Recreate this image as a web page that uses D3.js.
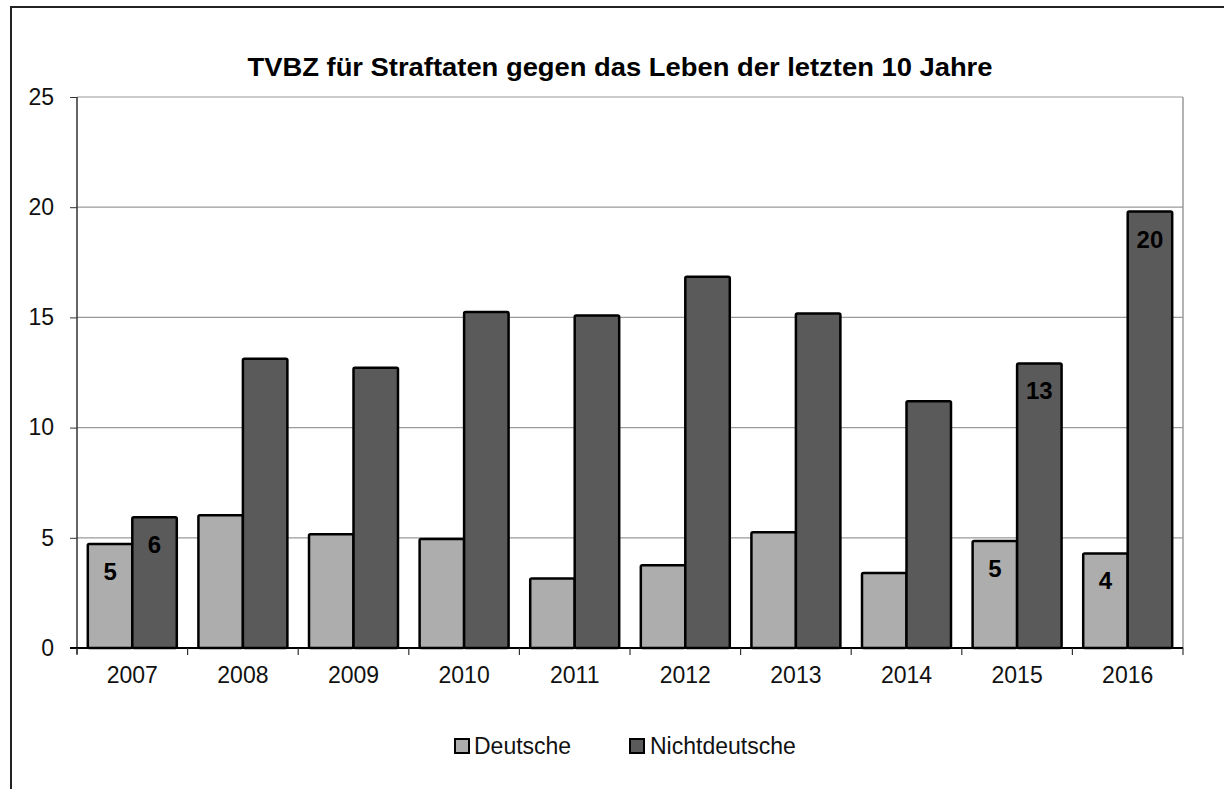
<!DOCTYPE html>
<html>
<head>
<meta charset="utf-8">
<script src="https://cdn.jsdelivr.net/npm/d3@7"></script>
<style>
  body { margin: 0; background: #fff; }
  svg { display: block; font-family: "Liberation Sans", Arial, sans-serif; }
</style>
</head>
<body>
<svg id="chart" width="1224" height="789"></svg>
<script>
// chart data
const years = ["2007","2008","2009","2010","2011","2012","2013","2014","2015","2016"];
const series = ["Deutsche", "Nichtdeutsche"];
const deutsche = [4.72, 6.02, 5.16, 4.94, 3.15, 3.75, 5.25, 3.40, 4.85, 4.29];
const nichtdeutsche = [5.93, 13.12, 12.71, 15.24, 15.09, 16.84, 15.18, 11.19, 12.91, 19.80];
// value labels that are printed on the bars (null = none)
const labelsDeutsche = [5, null, null, null, null, null, null, null, 5, 4];
const labelsNichtdeutsche = [6, null, null, null, null, null, null, null, 13, 20];
const yTicks = [0, 5, 10, 15, 20, 25];

const title = "TVBZ für Straftaten gegen das Leben der letzten 10 Jahre";
const colors = { "Deutsche": "#adadad", "Nichtdeutsche": "#5a5a5a" };

const plotLeft = 77, plotRight = 1183, plotTop = 97, plotBottom = 648;

const svg = d3.select("#chart");

// outer frame (only left and top edges are visible)
svg.append("path")
	.attr("d", "M11,789 L11,7 L1224,7")
	.attr("fill", "none")
	.attr("stroke", "#222")
	.attr("stroke-width", 2);

// title
svg.append("text")
	.attr("x", 620)
	.attr("y", 76)
	.attr("text-anchor", "middle")
	.attr("font-size", 26)
	.attr("font-weight", "bold")
	.attr("textLength", 745)
	.attr("lengthAdjust", "spacingAndGlyphs")
	.text(title);

const x0 = d3.scaleBand().domain(years).range([plotLeft, plotRight]).padding(0);
const x1 = d3.scaleBand().domain(series).range([0, x0.bandwidth()])
	.paddingInner(0).paddingOuter(0.243);
const y = d3.scaleLinear().domain([0, 25]).range([plotBottom, plotTop]);

// gridlines
svg.append("g")
	.selectAll("line")
	.data(yTicks.filter(d => d > 0))
	.join("line")
	.attr("x1", plotLeft).attr("x2", plotRight)
	.attr("y1", d => y(d)).attr("y2", d => y(d))
	.attr("stroke", "#9a9a9a")
	.attr("stroke-width", 1.2);

// right border of plot area
svg.append("line")
	.attr("x1", plotRight).attr("x2", plotRight)
	.attr("y1", plotTop).attr("y2", plotBottom)
	.attr("stroke", "#9a9a9a")
	.attr("stroke-width", 1.5);

// bars
const rows = years.map((yr, i) => ({
	year: yr,
	values: [
		{ key: "Deutsche", value: deutsche[i], label: labelsDeutsche[i] },
		{ key: "Nichtdeutsche", value: nichtdeutsche[i], label: labelsNichtdeutsche[i] }
	]
}));

const groups = svg.append("g")
	.selectAll("g")
	.data(rows)
	.join("g")
	.attr("transform", d => `translate(${x0(d.year)},0)`);

groups.selectAll("rect")
	.data(d => d.values)
	.join("rect")
	.attr("x", d => x1(d.key))
	.attr("y", d => y(d.value))
	.attr("width", x1.bandwidth())
	.attr("height", d => y(0) - y(d.value))
	.attr("rx", 1.5)
	.attr("fill", d => colors[d.key])
	.attr("stroke", "#000")
	.attr("stroke-width", 2.5);

groups.selectAll("text")
	.data(d => d.values.filter(v => v.label != null))
	.join("text")
	.attr("x", d => x1(d.key) + x1.bandwidth() / 2)
	.attr("y", d => y(d.value) + 36)
	.attr("text-anchor", "middle")
	.attr("font-size", 24)
	.attr("font-weight", "bold")
	.attr("fill", "#000")
	.text(d => d.label);

// y axis
const yAxis = svg.append("g")
	.attr("transform", `translate(${plotLeft},0)`)
	.call(d3.axisLeft(y).tickValues(yTicks).tickSize(7).tickPadding(16));
yAxis.select(".domain").attr("stroke", "#333").attr("stroke-width", 1.5)
	.attr("d", `M0,${plotTop}V${plotBottom + 6}`);
yAxis.selectAll(".tick line").attr("stroke", "#333");
yAxis.selectAll(".tick text")
	.attr("font-size", 23)
	.attr("font-family", "Liberation Sans, Arial, sans-serif")
	.attr("fill", "#111");

// x axis
const xAxis = svg.append("g")
	.attr("transform", `translate(0,${plotBottom})`)
	.call(d3.axisBottom(x0).tickSize(0).tickPadding(14));
xAxis.select(".domain").attr("stroke", "#000").attr("stroke-width", 2)
	.attr("d", `M${plotLeft - 7},0H${plotRight}`);
xAxis.selectAll(".tick text")
	.attr("font-size", 23)
	.attr("dy", "0.9em")
	.attr("font-family", "Liberation Sans, Arial, sans-serif")
	.attr("fill", "#111");

// category boundary ticks
svg.append("g")
	.selectAll("line")
	.data(years.concat(["end"]))
	.join("line")
	.attr("x1", (d, i) => plotLeft + i * x0.step())
	.attr("x2", (d, i) => plotLeft + i * x0.step())
	.attr("y1", plotBottom)
	.attr("y2", plotBottom + 7)
	.attr("stroke", "#333")
	.attr("stroke-width", 1.2);

// legend
const legendItems = [
	{ key: "Deutsche", x: 455, tx: 474 },
	{ key: "Nichtdeutsche", x: 630, tx: 650 }
];
const legend = svg.append("g")
	.selectAll("g")
	.data(legendItems)
	.join("g");
legend.append("rect")
	.attr("x", d => d.x)
	.attr("y", 739)
	.attr("width", 14)
	.attr("height", 14)
	.attr("fill", d => colors[d.key])
	.attr("stroke", "#000")
	.attr("stroke-width", 2);
legend.append("text")
	.attr("x", d => d.tx)
	.attr("y", 754)
	.attr("font-size", 23)
	.attr("fill", "#111")
	.text(d => d.key);
</script>
</body>
</html>
